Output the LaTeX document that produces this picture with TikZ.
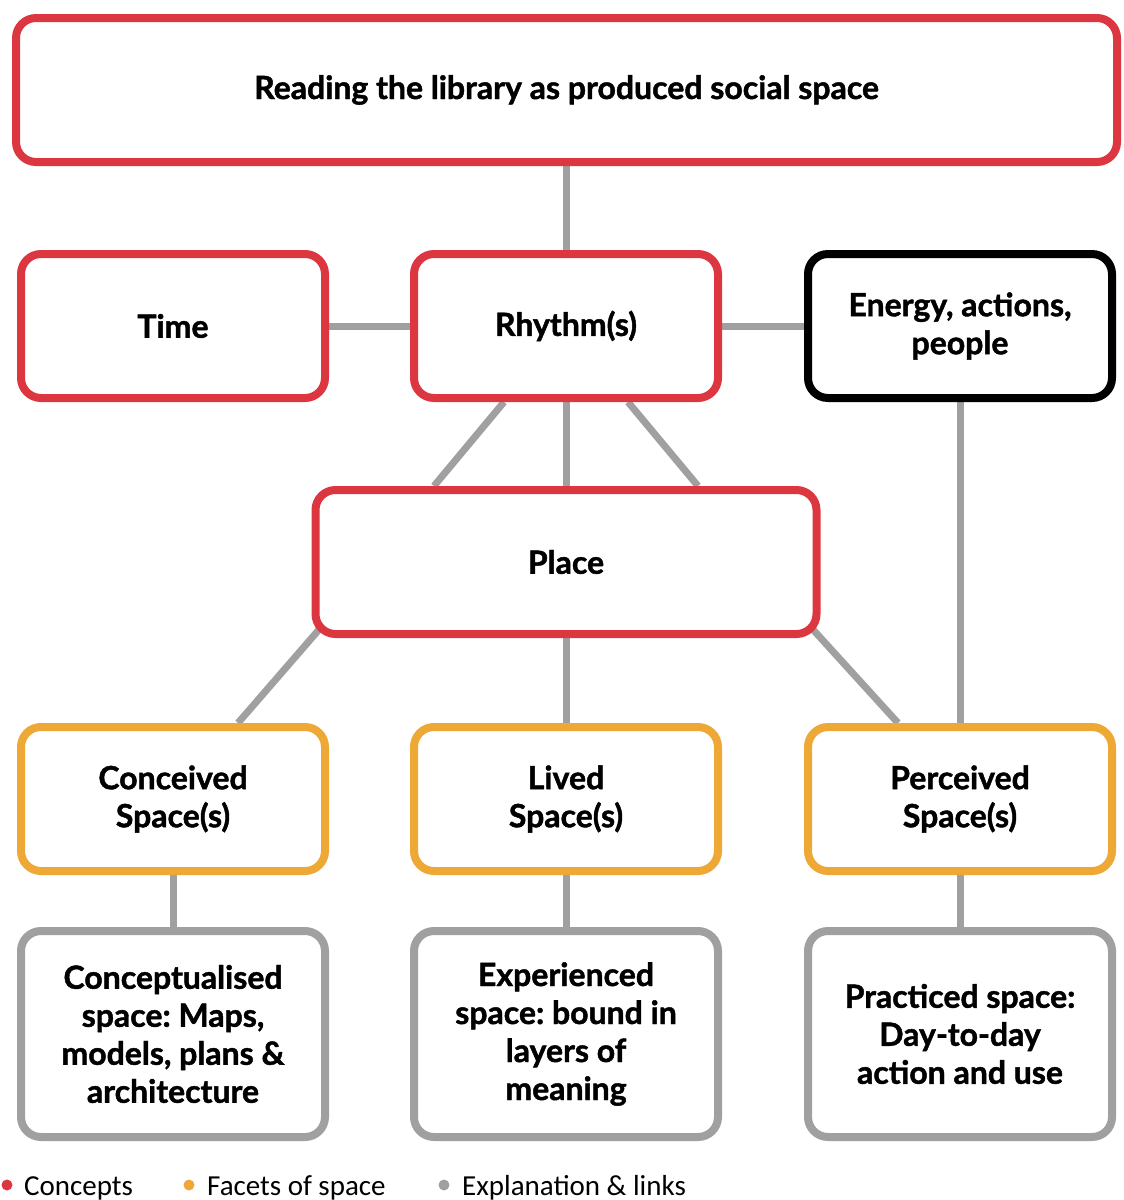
\documentclass[tikz,border=0pt]{standalone}
\usepackage{fontspec}
\setmainfont{Lato}[BoldFeatures={FakeBold=1.4}]
\newfontfamily\legendfont{Carlito}
\usetikzlibrary{backgrounds}
\definecolor{cred}{HTML}{DC3741}
\definecolor{corange}{HTML}{EEA836}
\definecolor{cgrey}{HTML}{A0A0A0}
\definecolor{cline}{HTML}{A0A0A0}
\frenchspacing
\begin{document}
\begin{tikzpicture}[x=1pt,y=-1pt,
  box/.style={draw, line width=8pt, rounded corners=20pt, fill=white, align=center,
    inner sep=0pt, font=\fontsize{32}{38}\selectfont\bfseries},
  smallbox/.style={box, minimum width=304pt, minimum height=144pt},
  concept/.style={draw=cred},
  facet/.style={draw=corange},
  expl/.style={draw=cgrey},
  link/.style={draw=cline, line width=7pt},
  dot/.style={circle, inner sep=0pt, minimum size=11pt},
  legend/.style={anchor=base west, inner sep=0pt, font=\legendfont\fontsize{29}{32}\selectfont}
]
\useasboundingbox (0,0) rectangle (1124,1200);

\node[box, concept, minimum width=1101pt, minimum height=144pt] (top) at (566.5,90) {\raisebox{-3pt}{Reading the library as produced social space}};
\node[smallbox, concept] (time) at (173,326) {Time};
\node[smallbox, concept] (rh) at (566,326) {Rhythm(s)};
\node[smallbox, draw=black] (en) at (960,326) {Energy, actions,\\people};
\node[box, concept, minimum width=501pt, minimum height=144pt] (place) at (566,562) {Place};
\node[smallbox, facet] (con) at (173,799) {Conceived\\Space(s)};
\node[smallbox, facet] (liv) at (566,799) {Lived\\Space(s)};
\node[smallbox, facet] (per) at (960,799) {Perceived\\Space(s)};
\node[box, expl, minimum width=304pt, minimum height=206pt] (b1) at (173,1034) {Conceptualised\\space: Maps,\\models, plans \&\\architecture};
\node[box, expl, minimum width=304pt, minimum height=206pt] (b2) at (566,1034) {Experienced\\space: bound in\\layers of\\meaning};
\node[box, expl, minimum width=304pt, minimum height=206pt] (b3) at (960,1034) {Practiced space:\\Day-to-day\\action and use};

\begin{scope}[on background layer]
\draw[link] (rh.north |- top.south) -- (rh.north);
\draw[link] (time.east) -- (rh.west);
\draw[link] (rh.east) -- (en.west);
\draw[link] ([xshift=-62pt]rh.south) -- ([xshift=-132pt]place.north);
\draw[link] (rh.south) -- (place.north);
\draw[link] ([xshift=62pt]rh.south) -- ([xshift=132pt]place.north);
\draw[link] (en.south) -- (per.north);
\draw[link] ([xshift=8pt,yshift=9pt]place.south west) -- ([xshift=65pt]con.north);
\draw[link] (place.south) -- (liv.north);
\draw[link] ([xshift=-8pt,yshift=9pt]place.south east) -- ([xshift=-62pt]per.north);
\draw[link] (con.south) -- (b1.north);
\draw[link] (liv.south) -- (b2.north);
\draw[link] (per.south) -- (b3.north);
\end{scope}

\node[dot, fill=cred] (d1) at (7,1185) {};
\node[legend] (l1) at (24,1195) {Concepts};
\node[dot, fill=corange] (d2) at (189,1185) {};
\node[legend] (l2) at (207,1195) {Facets of space};
\node[dot, fill=cgrey] (d3) at (444,1185) {};
\node[legend] (l3) at (462,1195) {Explanation \& links};
\end{tikzpicture}
\end{document}
